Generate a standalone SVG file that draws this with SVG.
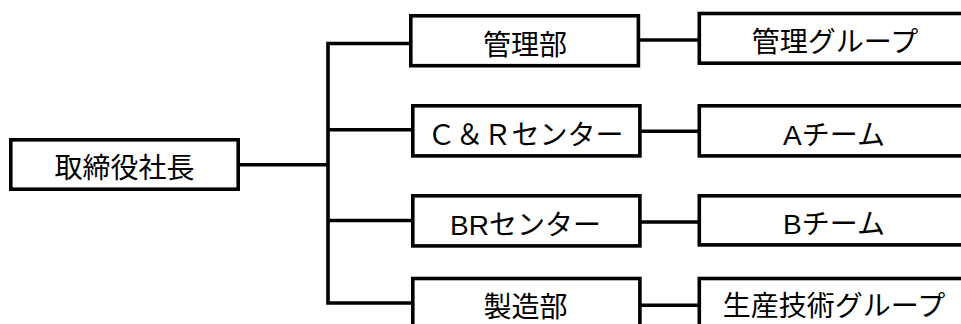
<svg xmlns="http://www.w3.org/2000/svg" width="961" height="324" viewBox="0 0 961 324">
<style>
.box{fill:#fff;stroke:#000;stroke-width:3.6}
.ln{fill:none;stroke:#000;stroke-width:3.6;stroke-linejoin:miter;stroke-linecap:butt}
.t{font-family:"Liberation Sans","Noto Sans CJK JP",sans-serif;font-size:28px;text-anchor:middle;fill:#000}
</style>
<rect width="961" height="324" fill="#fff"/>
<g id="connectors">
<line class="ln" x1="240" y1="164.7" x2="328" y2="164.7"/>
<path class="ln" d="M411,43.5 H328 V303 H411"/>
<line class="ln" x1="328" y1="129.7" x2="411" y2="129.7"/>
<line class="ln" x1="328" y1="220.5" x2="411" y2="220.5"/>
<line class="ln" x1="640" y1="40" x2="698" y2="40"/>
<line class="ln" x1="641" y1="131.3" x2="698" y2="131.3"/>
<line class="ln" x1="641" y1="222" x2="698" y2="222"/>
<line class="ln" x1="641" y1="305.3" x2="698" y2="305.3"/>
</g>
<g id="ceo">
<rect class="box" x="10.8" y="139.8" width="227.4" height="49.4"/>
<text class="t" x="124.5" y="178">取締役社長</text>
</g>
<g id="kanri">
<rect class="box" x="410.8" y="15.8" width="227.6" height="49.9"/>
<text class="t" x="525" y="54.5">管理部</text>
</g>
<g id="cr">
<rect class="box" x="412.8" y="105.8" width="227.1" height="50.1"/>
<text class="t" x="525.5" y="144.5">Ｃ＆Ｒセンター</text>
</g>
<g id="br">
<rect class="box" x="412.8" y="195.8" width="227.1" height="50.1"/>
<text class="t" x="525.5" y="234.5">BRセンター</text>
</g>
<g id="seizo">
<rect class="box" x="412.8" y="278.5" width="227.1" height="60"/>
<text class="t" x="525.5" y="316.5">製造部</text>
</g>
<g id="kanri-group">
<rect class="box" x="699.3" y="13.5" width="280" height="49.7"/>
<text class="t" x="835" y="52">管理グループ</text>
</g>
<g id="a-team">
<rect class="box" x="699.3" y="105.8" width="280" height="50.1"/>
<text class="t" x="834" y="144.5">Aチーム</text>
</g>
<g id="b-team">
<rect class="box" x="699.3" y="195.8" width="280" height="49.1"/>
<text class="t" x="834" y="234">Bチーム</text>
</g>
<g id="seisan-group">
<rect class="box" x="699.3" y="278.5" width="280" height="60"/>
<text class="t" x="834" y="316">生産技術グループ</text>
</g>
</svg>
